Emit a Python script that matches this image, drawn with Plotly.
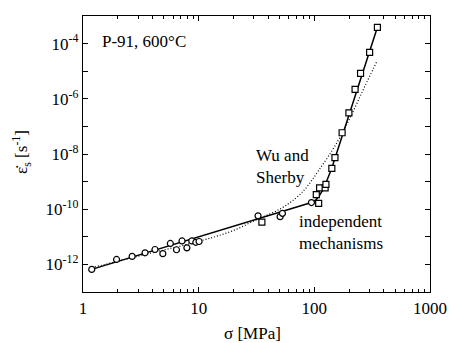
import plotly.graph_objects as go

# Measured creep data, P-91 steel at 600 °C
circle_sigma = [1.19, 1.95, 2.66, 3.44, 4.19, 4.90, 5.69, 6.43, 7.18, 7.91, 8.72, 9.45, 10.08,
                32.6, 50.6, 53.0, 94.4]
circle_rate = [6.6e-13, 1.51e-12, 1.95e-12, 2.63e-12, 3.47e-12, 2.45e-12, 5.75e-12, 3.39e-12,
               7.08e-12, 3.98e-12, 7.08e-12, 6.31e-12, 6.76e-12,
               5.75e-11, 5.37e-11, 7.08e-11, 1.74e-10]

square_sigma = [35.2, 104, 109, 111, 124, 126, 141.7, 150.7, 173.8, 199, 225, 251, 300.6, 351]
square_rate = [3.39e-11, 3.39e-10, 1.62e-10, 5.89e-10, 5.89e-10, 7.94e-10, 3.02e-9, 7.41e-9,
               5.89e-8, 3.09e-7, 2.19e-6, 8.32e-6, 4.79e-5, 3.89e-4]

# Independent-mechanisms fit
indep_sigma = [1.19, 10, 30, 60, 94.4, 103, 109, 115.6, 123.8, 141.7, 160.8, 351]
indep_rate = [6.61e-13, 1.0e-11, 4.07e-11, 9.77e-11, 1.74e-10, 2.19e-10, 2.82e-10, 4.27e-10,
              7.41e-10, 3.09e-9, 1.55e-8, 3.89e-4]

# Wu and Sherby fit
ws_sigma = [1.19, 3.68, 9.69, 19.1, 32.8, 50.2, 67.2, 81.6, 95.3, 109.2, 132.5, 167, 215, 271, 344]
ws_rate = [7.59e-13, 2.45e-12, 6.61e-12, 1.58e-11, 4.47e-11, 1.0e-10, 2.29e-10, 4.90e-10,
           1.12e-9, 2.57e-9, 8.32e-9, 4.07e-8, 3.31e-7, 2.63e-6, 2.09e-5]

x_ticks = [1, 10, 100, 1000]
x_ticktext = ["1", "10", "100", "1000"]
x_minor = [m * d for d in (1, 10, 100) for m in range(2, 10)]
y_ticks = [10.0 ** e for e in range(-13, -2)]
y_ticktext = ["" if e % 2 else "10<sup>%d</sup>" % e for e in range(-13, -2)]

FONT = "Liberation Serif"


def serif(size=17):
    return dict(family=FONT, size=size, color="black")


fig = go.Figure()
fig.add_trace(go.Scatter(x=ws_sigma, y=ws_rate, mode="lines", line_shape="spline",
                         line=dict(color="black", width=1.2, dash="1px,2px"), showlegend=False))
fig.add_trace(go.Scatter(x=indep_sigma, y=indep_rate, mode="lines",
                         line=dict(color="black", width=1.5), showlegend=False))
fig.add_trace(go.Scatter(x=circle_sigma, y=circle_rate, mode="markers",
                         marker=dict(symbol="circle", size=6, color="white",
                                     line=dict(color="black", width=1.2)), showlegend=False))
fig.add_trace(go.Scatter(x=square_sigma, y=square_rate, mode="markers",
                         marker=dict(symbol="square", size=6, color="white",
                                     line=dict(color="black", width=1.2)), showlegend=False))

frame = dict(showgrid=False, zeroline=False, showline=True, linecolor="black",
             linewidth=1.3, mirror="allticks", ticks="inside", tickcolor="black", tickwidth=1)

fig.update_xaxes(type="log", range=[0, 3], tickmode="array", tickvals=x_ticks,
                 ticktext=x_ticktext, tickfont=serif(), ticklen=5,
                 minor=dict(tickmode="array", tickvals=x_minor, ticks="inside", ticklen=3,
                            tickcolor="black", tickwidth=1),
                 **frame)
fig.update_yaxes(type="log", range=[-13, -3], tickmode="array", tickvals=y_ticks,
                 ticktext=y_ticktext, tickfont=serif(), ticklen=5, **frame)

fig.update_layout(
    width=459, height=343,
    margin=dict(l=83, r=20, t=16, b=51),
    paper_bgcolor="white", plot_bgcolor="white",
    annotations=[
        dict(text="P-91, 600°C", xref="paper", yref="paper", x=0.05, y=0.909,
             xanchor="left", yanchor="middle", showarrow=False, font=serif()),
        dict(text="Wu and<br>Sherby", xref="paper", yref="paper", x=0.493, y=0.455,
             xanchor="left", yanchor="middle", align="left", showarrow=False, font=serif()),
        dict(text="independent<br>mechanisms", xref="paper", yref="paper", x=0.616, y=0.215,
             xanchor="left", yanchor="middle", align="left", showarrow=False, font=serif()),
        dict(text="σ [MPa]", xref="paper", yref="paper", x=0.489, y=-0.15,
             xanchor="center", yanchor="middle", showarrow=False, font=serif()),
        dict(text="ε\u0307<sub>s</sub> [s<sup>-1</sup>]", xref="paper", yref="paper",
             x=-0.177, y=0.506, xanchor="center", yanchor="middle", textangle=-90,
             showarrow=False, font=serif()),
    ],
)

# resolve text styles after drawing and lay out a small white block of text in the
# bottom-left corner so the page lays out its text again with the serif face
repaint = """
document.querySelectorAll('text').forEach(function(t) {
  var cs = getComputedStyle(t);
  void (cs.fontFamily + cs.fontSize);
});
var d = document.createElement('pre');
d.style.cssText = 'position:absolute;left:0;top:333px;font:9px monospace;color:#fff;background:#fff;margin:0;z-index:99;pointer-events:none';
d.textContent = '.';
document.body.appendChild(d);
"""
fig.write_html("out.html", post_script=repaint)
